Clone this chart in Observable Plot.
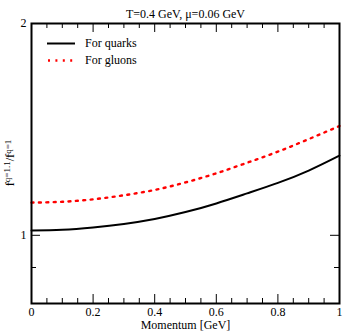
<!DOCTYPE html>
<html><head><meta charset="utf-8">
<script src="https://cdn.jsdelivr.net/npm/d3@7"></script>
<script src="https://cdn.jsdelivr.net/npm/@observablehq/plot@0.6"></script>
<style>body{margin:0;background:#fff} svg{display:block} svg text{font-family:'Liberation Serif','DejaVu Serif','Times New Roman',serif !important;}</style>
</head><body><div id="chart"></div>
<script>
const momentum = [0, 0.1, 0.2, 0.3, 0.4, 0.5, 0.6, 0.7, 0.8, 0.9, 1.0];
const quarks   = [1.016, 1.018, 1.026, 1.038, 1.055, 1.079, 1.110, 1.147, 1.187, 1.236, 1.298];
const gluons   = [1.113, 1.116, 1.125, 1.140, 1.160, 1.189, 1.225, 1.268, 1.315, 1.370, 1.430];
const xTicks = [0, 0.2, 0.4, 0.6, 0.8, 1];
const xMinor = [0.05, 0.1, 0.15, 0.25, 0.3, 0.35, 0.45, 0.5, 0.55, 0.65, 0.7, 0.75, 0.85, 0.9, 0.95];
const yTicks = [1, 2];
const yMinor = [0.9];
const seriesNames = ["For quarks", "For gluons"];
const titleText = "T=0.4 GeV, \u03bc=0.06 GeV";
const xLabel = "Momentum [GeV]";

const rows = [];
momentum.forEach((m, i) => {
  rows.push({m, v: quarks[i], s: seriesNames[0]});
  rows.push({m, v: gluons[i], s: seriesNames[1]});
});

const W = 343, H = 334, mL = 31, mR = 4, mT = 23, mB = 31;
const fw = W - mL - mR, fh = H - mT - mB;
const serif = "'Liberation Serif', 'DejaVu Serif', serif";

const plot = Plot.plot({
  width: W, height: H, marginLeft: mL, marginRight: mR, marginTop: mT, marginBottom: mB,
  style: {fontFamily: serif, fontSize: "12px", background: "white", color: "black"},
  x: {domain: [0, 1]},
  y: {type: "log", domain: [0.8, 2]},
  marks: [
    Plot.axisX(xTicks, {tickSize: 0, tickPadding: 4, tickFormat: d => String(d), label: null}),
    Plot.axisY(yTicks, {tickSize: 0, tickPadding: 5, tickFormat: d => String(d), label: null}),
    Plot.tickX(xTicks, {x: d => d, insetTop: fh - 9, stroke: "black"}),
    Plot.tickX(xMinor, {x: d => d, insetTop: fh - 5, stroke: "black"}),
    Plot.tickX(xTicks, {x: d => d, insetBottom: fh - 9, stroke: "black"}),
    Plot.tickX(xMinor, {x: d => d, insetBottom: fh - 5, stroke: "black"}),
    Plot.tickY(yTicks, {y: d => d, insetRight: fw - 9, stroke: "black"}),
    Plot.tickY(yMinor, {y: d => d, insetRight: fw - 5, stroke: "black"}),
    Plot.tickY(yTicks, {y: d => d, insetLeft: fw - 9, stroke: "black"}),
    Plot.tickY(yMinor, {y: d => d, insetLeft: fw - 5, stroke: "black"}),
    Plot.line(rows.filter(r => r.s === seriesNames[0]), {x: "m", y: "v", stroke: "black", strokeWidth: 2, curve: "natural"}),
    Plot.line(rows.filter(r => r.s === seriesNames[1]), {x: "m", y: "v", stroke: "#ff0000", strokeWidth: 2.4, strokeDasharray: "2,5.4", curve: "natural"}),
    Plot.text([titleText], {frameAnchor: "top", dy: -14, text: d => d, fill: "black"}),
    Plot.text([xLabel], {frameAnchor: "bottom", dy: 25, text: d => d, fill: "black"}),
    Plot.frame({stroke: "black", strokeWidth: 2})
  ]
});

const svg = d3.select(plot);
// y label with superscripts
const yl = svg.append("text")
  .attr("font-family", serif).attr("font-size", 12.5).attr("fill", "black")
  .attr("text-anchor", "middle")
  .attr("transform", `translate(14,${mT + fh / 2}) rotate(-90)`);
yl.append("tspan").text("f");
yl.append("tspan").attr("dy", "-0.45em").attr("font-size", "9px").text("q=1.1");
yl.append("tspan").attr("dy", "0.3em").text("/f");
yl.append("tspan").attr("dy", "-0.3em").attr("font-size", "9px").text("q=1");

// legend
const lg = svg.append("g").attr("font-family", serif).attr("font-size", 12)
  .attr("text-anchor", "start").attr("fill", "black");
lg.append("line").attr("x1", 47).attr("x2", 75).attr("y1", 43.5).attr("y2", 43.5)
  .attr("stroke", "black").attr("stroke-width", 2);
lg.append("text").attr("x", 85).attr("y", 43.5).attr("dy", "0.32em").text(seriesNames[0]);
lg.append("line").attr("x1", 48).attr("x2", 77).attr("y1", 60.5).attr("y2", 60.5)
  .attr("stroke", "#ff0000").attr("stroke-width", 2.4).attr("stroke-dasharray", "2,5.4");
lg.append("text").attr("x", 85).attr("y", 60).attr("dy", "0.32em").text(seriesNames[1]);

document.getElementById("chart").appendChild(plot);
</script>
</body></html>
